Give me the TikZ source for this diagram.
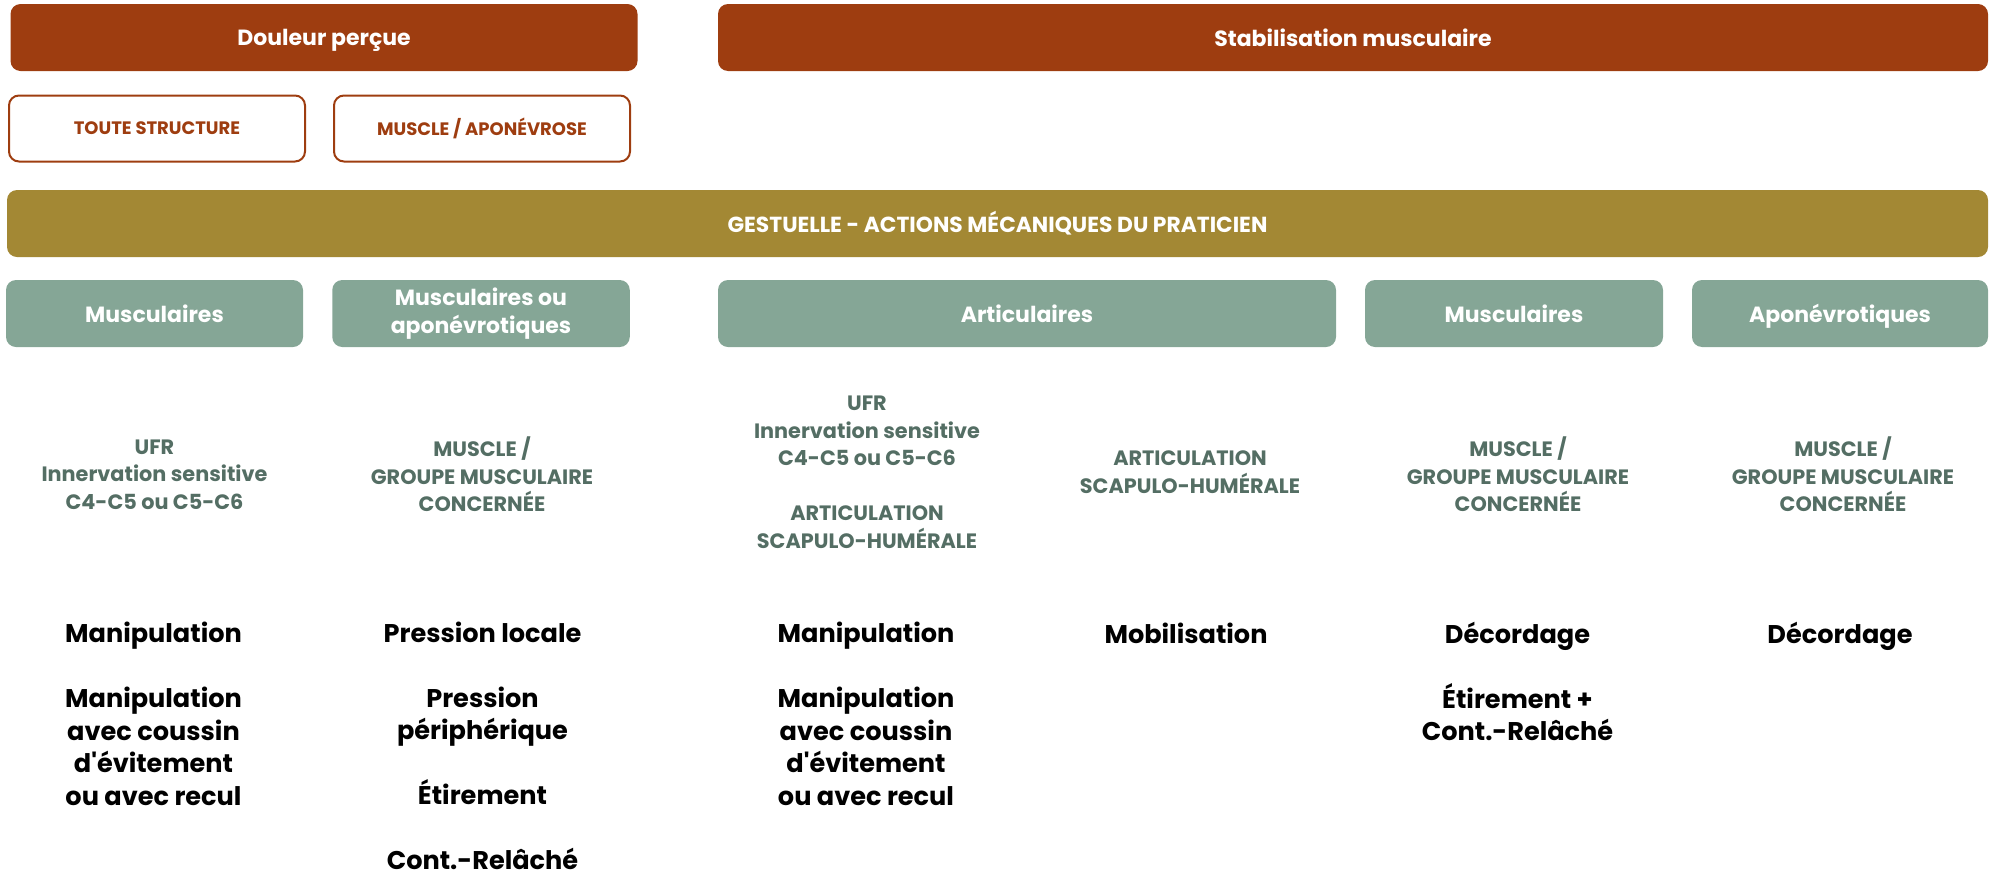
\documentclass[tikz,border=0pt]{standalone}
\usepackage{fontspec}
\setmainfont{Poppins}
\usetikzlibrary{positioning}

\definecolor{rouille}{RGB}{158,61,16}
\definecolor{olive}{RGB}{163,136,52}
\definecolor{sauge}{RGB}{133,166,150}
\definecolor{ardoise}{RGB}{84,110,100}

\begin{document}
\begin{tikzpicture}[x=0.5pt, y=-0.5pt,
    titre/.style={rectangle, rounded corners=5pt, fill=rouille, text=white, inner sep=0pt, text depth=0pt,
        minimum height=33.5pt, font=\bfseries\fontsize{11}{13}\selectfont},
    cadre/.style={rectangle, rounded corners=5pt, draw=rouille, line width=1pt, text=rouille, inner sep=0pt,
        minimum width=148pt, minimum height=33pt, font=\bfseries\fontsize{9}{11}\selectfont},
    bandeau/.style={rectangle, rounded corners=5pt, fill=olive, text=white, inner sep=0pt,
        minimum width=990.5pt, minimum height=33.5pt, font=\bfseries\fontsize{10.9}{12}\selectfont},
    famille/.style={rectangle, rounded corners=5pt, fill=sauge, text=white, inner sep=0pt,
        minimum height=33.5pt, align=center, font=\bfseries\fontsize{11}{14}\selectfont},
    cible/.style={align=center, text=ardoise, inner sep=0pt, font=\bfseries\fontsize{10.4}{13.75}\selectfont},
    geste/.style={align=center, text=black, inner sep=0pt, font=\bfseries\fontsize{12.8}{16.25}\selectfont}]

    \useasboundingbox (0,0) rectangle (1991,873);

    % BANDEAUX DU HAUT
    \node[titre, minimum width=313.5pt] (douleur) at (324,37.5) {Douleur perçue};
    \node[titre, minimum width=635pt] (stabil) at (1353,37.5) {Stabilisation musculaire};

    \node[cadre] (toute) at (157,128.5) {TOUTE STRUCTURE};
    \node[cadre] (apon) at (482,128.5) {MUSCLE / APONÉVROSE};

    \node[bandeau] (gestuelle) at (997.5,223.5) {GESTUELLE - ACTIONS MÉCANIQUES DU PRATICIEN};

    % FAMILLES
    \node[famille, minimum width=148.5pt, text depth=0pt] (muscA) at (154.5,313.5) {Musculaires};
    \node[famille, minimum width=148.75pt] (muscapo) at (481,313.5) {Musculaires ou\\aponévrotiques};
    \node[famille, minimum width=309pt, text depth=0pt] (artic) at (1027,313.5) {Articulaires};
    \node[famille, minimum width=149pt, text depth=0pt] (muscB) at (1514,313.5) {Musculaires};
    \node[famille, minimum width=148pt, text depth=0pt] (aponev) at (1840,313.5) {Aponévrotiques};

    % CIBLES
    \node[cible] (ufrA) at (154.5,474.5) {UFR\\Innervation sensitive\\C4-C5 ou C5-C6};
    \node[cible] (groupeA) at (482,474.5) {MUSCLE /\\GROUPE MUSCULAIRE\\CONCERNÉE};
    \node[cible] (ufrB) at (867,472.5) {UFR\\Innervation sensitive\\C4-C5 ou C5-C6\\[13.75pt]ARTICULATION\\SCAPULO-HUMÉRALE};
    \node[cible] (scapulo) at (1190,472) {ARTICULATION\\SCAPULO-HUMÉRALE};
    \node[cible] (groupeB) at (1518,474.5) {MUSCLE /\\GROUPE MUSCULAIRE\\CONCERNÉE};
    \node[cible] (groupeC) at (1843,474.5) {MUSCLE /\\GROUPE MUSCULAIRE\\CONCERNÉE};

    % GESTES
    \node[geste] (manipA) at (153.5,714) {Manipulation\\[16.25pt]Manipulation\\avec coussin\\d\textquotesingle évitement\\ou avec recul};
    \node[geste] (pression) at (482.5,746) {Pression locale\\[16.25pt]Pression\\périphérique\\[16.25pt]Étirement\\[16.25pt]Cont.-Relâché};
    \node[geste] (manipB) at (866,714) {Manipulation\\[16.25pt]Manipulation\\avec coussin\\d\textquotesingle évitement\\ou avec recul};
    \node[geste] (mobil) at (1186,633) {Mobilisation};
    \node[geste] (decordA) at (1517.5,681.5) {Décordage\\[16.25pt]Étirement +\\Cont.-Relâché};
    \node[geste, text depth=0pt] (decordB) at (1840,633) {Décordage};

\end{tikzpicture}
\end{document}
